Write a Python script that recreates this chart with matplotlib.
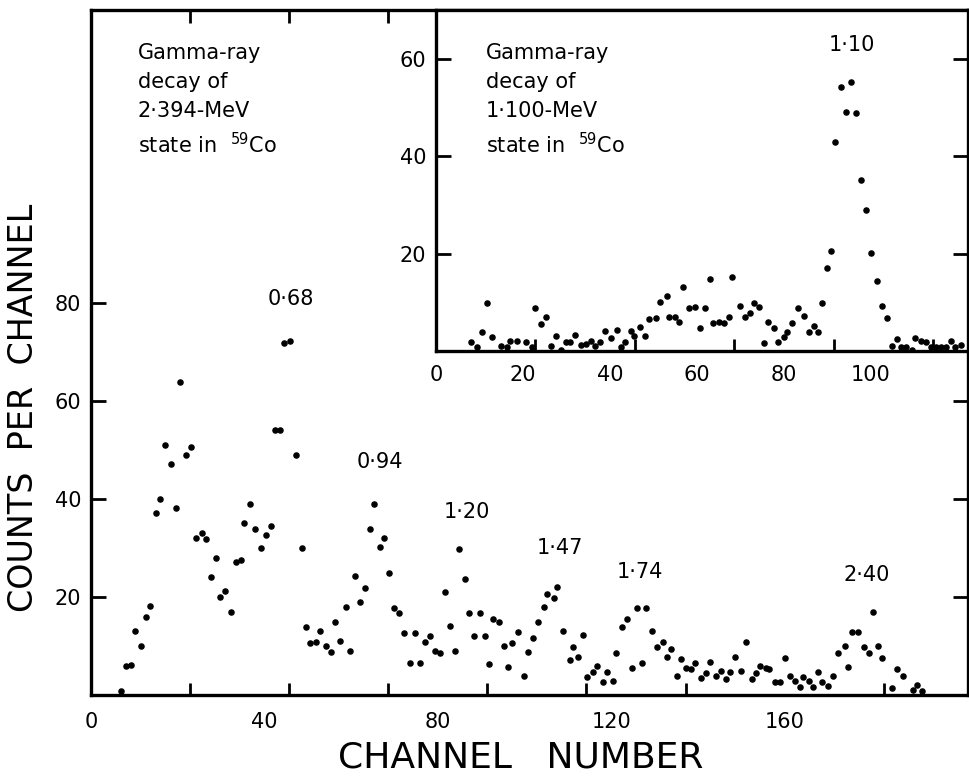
import numpy as np
import matplotlib
matplotlib.use('Agg')
import matplotlib.pyplot as plt
from matplotlib.ticker import FixedLocator

plt.rcParams['font.family'] = ['DejaVu Sans']
plt.rcParams['mathtext.default'] = 'regular'

# main spectrum: 2.394-MeV state (channel as printed on the axis)
main_channel = [6.9, 8.0, 9.2, 10.2, 11.5, 12.8, 13.6, 15.1, 15.9, 17.0, 18.5, 19.6, 20.5, 21.9,
                23.1, 24.3, 25.5, 26.6, 27.6, 28.9, 29.8, 30.9, 32.2, 33.4, 34.6, 35.4, 36.6,
                37.9, 39.3, 40.3, 41.5, 42.4, 43.6, 44.6, 45.9, 47.2, 48.6, 49.6, 50.6, 51.9,
                52.9, 54.1,
                55.3, 56.3, 57.5, 58.8, 59.8, 61.0, 62.0, 63.2, 64.3, 65.3, 66.6, 67.5, 68.8,
                70.0, 71.1, 72.3, 73.5, 74.7, 76.0, 77.1, 78.3, 79.4, 80.6, 81.6, 82.7, 83.9,
                85.0, 86.2, 87.3, 88.4, 89.8, 90.9, 91.9, 92.7, 94.0, 95.2, 96.3, 97.2, 98.6,
                99.8, 100.8, 102.0, 103.1, 104.4, 105.3,
                106.8, 107.6, 108.9, 110.4, 111.1, 112.3, 113.4, 114.5, 115.7, 116.8, 118.0,
                119.0, 120.5, 121.2, 122.4, 123.6, 124.8, 126.0, 127.1, 128.1, 129.5, 130.6,
                131.9, 132.8, 133.8, 135.2, 136.2, 137.3, 138.5, 139.4, 140.8, 141.8, 142.9,
                144.2, 145.4, 146.4, 147.5, 148.6, 149.9, 151.1, 152.5, 153.5, 154.4, 155.8,
                156.5, 157.7, 158.9, 160.1, 161.2, 162.5, 163.5, 164.2, 165.6, 166.6, 167.8,
                168.7, 170.1, 171.1, 172.2, 173.9, 174.6, 175.6, 176.9, 178.2, 179.5, 180.3,
                181.5, 182.5, 184.8, 186.0, 187.3, 189.6, 190.6, 191.7]
main_counts = [0.9, 5.9, 6.1, 13.1, 9.9, 16.0, 18.2, 37.1, 39.9, 51.0, 47.2, 38.1, 63.8, 48.9,
               50.7, 32.0, 33.1, 31.9, 24.1, 28.0, 19.9, 21.2, 16.9, 27.1, 27.6, 35.2, 39.0,
               33.9, 30.1, 32.7, 34.4, 54.0, 54.1, 71.9, 72.3, 49.0, 30.1, 13.9, 10.7, 10.9,
               13.0, 10.1,
               8.7, 15.0, 11.0, 17.9, 9.0, 24.2, 19.0, 21.9, 33.8, 39.0, 30.3, 32.0, 25.0,
               17.7, 16.7, 12.7, 6.6, 12.7, 6.6, 10.8, 12.1, 9.0, 8.6, 21.0, 14.0, 8.9,
               29.7, 23.6, 16.7, 12.0, 16.7, 12.1, 6.4, 15.6, 14.8, 9.9, 5.7, 10.6, 12.8,
               3.9, 8.8, 11.6, 14.9, 17.9, 20.7,
               19.7, 22.0, 13.0, 7.1, 9.7, 7.8, 12.3, 3.7, 4.7, 6.0, 2.7,
               4.7, 2.9, 8.5, 13.9, 15.6, 5.6, 17.8, 6.5, 17.8, 13.0, 9.7,
               10.8, 7.8, 9.4, 3.9, 7.4, 5.6, 5.3, 6.5, 3.5, 4.5, 6.7,
               3.9, 4.8, 3.2, 4.7, 7.8, 4.8, 10.8, 3.2, 4.5, 6.0, 5.6,
               5.4, 2.7, 2.6, 7.6, 3.9, 2.9, 1.7, 3.7, 2.8, 1.7, 4.6,
               2.7, 1.8, 3.8, 8.6, 9.9, 5.7, 12.9, 12.9, 9.8, 8.6, 16.9,
               9.9, 7.5, 1.5, 5.4, 3.8, 1.0, 2.0, 0.8]

main_peaks = ['0·68', '0·94', '1·20', '1·47', '1·74', '2·40']
main_peak_x = [46.2, 66.7, 86.8, 108.1, 126.5, 178.9]
main_peak_y = [80.8, 47.6, 37.3, 30.0, 25.1, 24.5]

# inset spectrum: 1.100-MeV state
inset_channel = [8.1, 9.5, 10.5, 11.7, 12.8, 15.0, 16.4, 17.1, 18.6, 20.6, 22.0, 22.8, 24.1,
                 25.4, 26.5, 27.5, 28.7, 29.8, 30.9, 32.0, 33.3, 34.5, 35.6, 36.6, 37.8, 38.8,
                 40.2, 41.5, 42.5, 43.5, 44.9, 45.6, 46.8, 48.1, 48.9, 50.5, 51.5, 53.1, 53.5,
                 54.9, 55.8, 56.8, 58.2, 59.6, 60.6,
                 61.8, 62.9, 63.7, 65.0, 66.3, 67.4, 68.1, 69.8, 71.0, 72.1, 73.0, 74.3, 75.3,
                 76.3, 77.8, 78.6, 79.9, 80.7, 81.9, 83.3, 84.5, 85.7, 86.9, 87.9, 88.8, 89.8,
                 90.8, 91.8, 93.2, 94.2, 95.3, 96.5, 97.7, 98.8, 100.0, 101.3, 102.5, 103.6,
                 104.8, 105.9, 106.9, 108.1, 109.4, 110.2, 111.5, 112.7, 113.8, 115.0, 116.1,
                 117.2, 118.3, 119.4, 120.7]
inset_counts = [1.9, 0.9, 3.8, 9.9, 2.8, 1.1, 0.9, 2.1, 2.1, 1.9, 0.9, 8.9, 5.6,
                7.0, 1.0, 3.0, 0.3, 1.9, 1.8, 3.2, 1.2, 1.5, 2.1, 1.1, 1.8, 4.1,
                2.7, 4.3, 0.9, 1.9, 4.1, 3.1, 5.0, 3.1, 6.6, 6.7, 10.0, 11.3, 7.0,
                6.9, 5.9, 13.1, 8.9, 9.0, 4.8,
                8.8, 14.7, 5.8, 6.0, 5.8, 7.0, 15.1, 9.2, 6.9, 7.9, 9.9, 9.0, 1.7,
                5.9, 4.8, 1.9, 2.8, 3.8, 5.7, 8.8, 7.2, 3.8, 5.1, 3.8, 9.9, 17.0,
                20.6, 43.0, 54.1, 49.1, 55.2, 48.9, 35.1, 29.0, 20.1, 14.4, 9.2, 6.8,
                1.1, 2.4, 0.9, 0.9, 0.2, 2.6, 2.1, 1.9, 0.9, 0.9, 0.9, 0.9,
                2.1, 0.8, 1.2]

W, H = 970, 780
fig = plt.figure(figsize=(W / 100, H / 100), dpi=100)


def px_axes(left, top, right, bottom):
    return [left / W, 1 - bottom / H, (right - left) / W, (bottom - top) / H]


def style_axes(ax, lw=2.4):
    for s in ax.spines.values():
        s.set_linewidth(lw)
        s.set_color('black')
    ax.tick_params(which='both', direction='in', width=2.0, color='black',
                   labelsize=15)


# tick marks on the frame do not sit under the printed numbers
mark_step = 160 / 7

# main axes
ax = fig.add_axes(px_axes(91, 10, 968, 695))
ax.plot(main_channel, main_counts, 'o', color='black', markersize=3.7, linestyle='none')
ax.set_xlim(0, 202.3)
ax.set_ylim(0, 139.8)
ax.xaxis.set_major_locator(FixedLocator([0, 40, 80, 120, 160]))
ax.xaxis.set_minor_locator(FixedLocator(np.arange(1, 9) * mark_step))
ax.yaxis.set_major_locator(FixedLocator([20, 40, 60, 80]))
style_axes(ax)
ax.tick_params(axis='x', which='major', length=0, pad=12)
ax.tick_params(axis='x', which='minor', length=9, top=True)
ax.tick_params(axis='y', which='both', length=11, right=True, pad=7)

fig.text(521 / W, 1 - 757 / H, 'CHANNEL   NUMBER', fontsize=26,
         ha='center', va='center')
fig.text(24 / W, 1 - 408 / H, 'COUNTS  PER  CHANNEL', fontsize=24,
         ha='center', va='center', rotation=90)

for lab, x, y in zip(main_peaks, main_peak_x, main_peak_y):
    ax.text(x, y, lab, ha='center', va='center', fontsize=15)

fig.text(138 / W, 1 - 43 / H, 'Gamma-ray\ndecay of\n2·394-MeV\nstate in  $^{59}$Co',
         ha='left', va='top', fontsize=15, linespacing=1.55)

# inset axes
ins = fig.add_axes(px_axes(436, 10, 968, 351))
ins.set_facecolor('white')
ins.plot(inset_channel, inset_counts, 'o', color='black', markersize=3.7, linestyle='none')
ins.set_xlim(0, 122.3)
ins.set_ylim(0, 70)
ins.xaxis.set_major_locator(FixedLocator([0, 20, 40, 60, 80, 100]))
ins.xaxis.set_minor_locator(FixedLocator(np.arange(1, 6) * mark_step))
ins.yaxis.set_major_locator(FixedLocator([20, 40, 60]))
style_axes(ins)
ins.tick_params(axis='x', which='major', length=0, pad=10)
ins.tick_params(axis='x', which='minor', length=9)
ins.tick_params(axis='y', length=11, right=True, pad=7)
ins.text(95.6, 62.8, '1·10', ha='center', va='center', fontsize=15)

fig.text(486 / W, 1 - 43 / H, 'Gamma-ray\ndecay of\n1·100-MeV\nstate in  $^{59}$Co',
         ha='left', va='top', fontsize=15, linespacing=1.55)

fig.savefig('out.png', dpi=100)
